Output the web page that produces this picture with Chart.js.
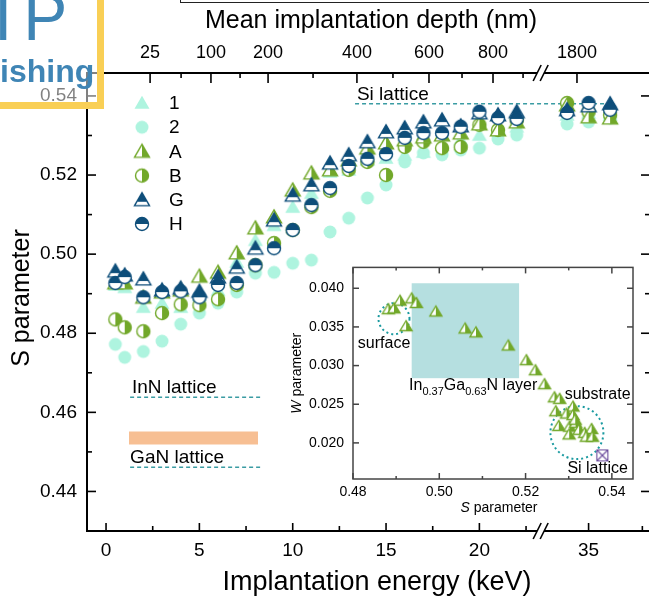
<!DOCTYPE html>
<html>
<head>
<meta charset="utf-8">
<script src="https://cdn.jsdelivr.net/npm/chart.js@4.4.1/dist/chart.umd.min.js"></script>
<style>
html, body { margin: 0; padding: 0; background: #fff; overflow: hidden; }
#wrap { position: relative; width: 649px; height: 604px; overflow: hidden; font-family: 'Liberation Sans', Arial, sans-serif; }
#main { position: absolute; left: 0; top: 0; }
#inset { position: absolute; left: 285px; top: 250px; }
#logo { position: absolute; left: 0; top: 0; width: 97px; height: 102px; background: rgba(255,255,255,0.5);
        border-right: 7px solid #f9cf55; border-bottom: 7px solid #f9cf55; overflow: hidden; color: #3f85b5; }
#logo .ip { position: absolute; left: -6px; top: -16px; font-size: 66px; line-height: 1; letter-spacing: 11px; }
#logo .ishing { position: absolute; left: 0; top: 55px; font-size: 32px; font-weight: bold; line-height: 1; }
#topbox { position: absolute; left: 180px; top: -10px; width: 480px; height: 11px; border: 1.5px solid #222; }
</style>
</head>
<body>
<div id="wrap">
  <canvas id="main" width="660" height="604"></canvas>
  <canvas id="inset" width="360" height="275"></canvas>
  <div id="logo"><div class="ip">IP</div><div class="ishing">ishing</div></div>
  <div id="topbox"></div>
</div>
<script>
// implantation energies (keV)
const energy = [0.5, 1, 2, 3, 4, 5, 6, 7, 8, 9, 10, 11, 12, 13, 14, 15, 16, 17, 18, 19, 20, 21, 22, 34, 35, 36];

// S parameter per sample
const s1 = [0.4922, 0.4916, 0.4866, 0.4876, 0.4866, 0.4896, 0.4909, 0.4980, 0.5035, 0.5073, 0.5119, 0.5154, 0.5208,
            0.5213, 0.5238, 0.5243, 0.5251, 0.5258, 0.5276, 0.5289, 0.5301, 0.5319, 0.5322, 0.5352, 0.5357, 0.5352];
const s2 = [0.4772, 0.4739, 0.4754, 0.4780, 0.4823, 0.4851, 0.4876, 0.4904, 0.4952, 0.4954, 0.4977, 0.4985, 0.5056,
            0.5091, 0.5142, 0.5175, 0.5233, 0.5256, 0.5251, 0.5263, 0.5268, 0.5291, 0.5301, 0.5329, 0.5334, 0.5344];
const sA = [0.4927, 0.4927, 0.4891, 0.4904, 0.4909, 0.4944, 0.4954, 0.5003, 0.5066, 0.5094, 0.5162, 0.5205, 0.5213,
            0.5238, 0.5268, 0.5281, 0.5289, 0.5296, 0.5301, 0.5306, 0.5329, 0.5314, 0.5334, 0.5377, 0.5347, 0.5344];
const sB = [0.4835, 0.4815, 0.4805, 0.4851, 0.4873, 0.4871, 0.4886, 0.4922, 0.4972, 0.5028, 0.5061, 0.5119, 0.5160,
            0.5213, 0.5233, 0.5200, 0.5271, 0.5284, 0.5268, 0.5271, 0.5327, 0.5314, 0.5339, 0.5382, 0.5360, 0.5352];
const sG = [0.4957, 0.4947, 0.4937, 0.4909, 0.4914, 0.4906, 0.4942, 0.4967, 0.5015, 0.5086, 0.5149, 0.5175, 0.5230,
            0.5251, 0.5284, 0.5309, 0.5319, 0.5334, 0.5339, 0.5324, 0.5357, 0.5352, 0.5360, 0.5365, 0.5375, 0.5380];
const sH = [0.4927, 0.4942, 0.4891, 0.4904, 0.4906, 0.4891, 0.4922, 0.4927, 0.4972, 0.5015, 0.5061, 0.5124, 0.5167,
            0.5223, 0.5241, 0.5253, 0.5294, 0.5306, 0.5306, 0.5322, 0.5360, 0.5344, 0.5342, 0.5357, 0.5382, 0.5365];

// reference levels
const siLevel = 0.538, siSpan = [13.34, 36.2];
const innLevel = 0.4638, ganLevel = 0.4461, latticeSpan = [1.29, 8.36];
const bandLevel = 0.4535, bandSpan = [1.23, 8.14];

// axes ticks
const yMajor = [0.44, 0.46, 0.48, 0.50, 0.52, 0.54];
const yMinor = [0.45, 0.47, 0.49, 0.51, 0.53];
const energyMajor = [0, 5, 10, 15, 20, 35];
const energyMinor = [2.5, 7.5, 12.5, 17.5, 22.5, 37.5];
const depthLabels = ['25', '100', '200', '400', '600', '800', '1800'];
const depthMajorE = [2.36, 5.62, 8.68, 13.44, 17.30, 20.73, 34.46];
const depthMinorE = [4.02, 7.18, 11.09, 15.37, 19.07, 22.34];
const breakE = 23.15;

// inset: W vs S for sample A
const insetS = [0.4882, 0.4895, 0.4909, 0.4923, 0.4936, 0.4947, 0.4992, 0.5060, 0.5085, 0.5160, 0.5202, 0.5223, 0.5244, 0.5267, 0.5279,
                0.5270, 0.5310, 0.5295, 0.5310, 0.5277, 0.5302, 0.5316, 0.5301, 0.5324, 0.5337, 0.5353, 0.5341, 0.5355, 0.5315];
const insetW = [0.0373, 0.0374, 0.0384, 0.0351, 0.0387, 0.0381, 0.0370, 0.0348, 0.0343, 0.0326, 0.0307, 0.0294, 0.0276, 0.0259, 0.0257,
                0.0241, 0.0247, 0.0238, 0.0236, 0.0222, 0.0221, 0.0226, 0.0211, 0.0217, 0.0213, 0.0218, 0.0208, 0.0208, 0.0230];
const siS = [0.5378], siW = [0.01838];
const layerS = [0.4936, 0.5185], layerW = [0.02837, 0.04065];
const surfaceCenter = [0.4895, 0.03607], substrateCenter = [0.5319, 0.02133];
const insetXTicks = [0.48, 0.50, 0.52, 0.54];
const insetXMinor = [0.49, 0.51, 0.53];
const insetYTicks = [0.020, 0.025, 0.030, 0.035, 0.040];

const FONT = "'Liberation Sans', Arial, sans-serif";
const AQUA = '#aef4df', GREEN = '#72a82a', BLUE = '#0e4e7a', TEAL = '#3a9ca3', PEACH = '#f7bf93', PURPLE = '#6a4a9c';

// broken axis: 0..23 keV linear, then 35 keV region a bit wider
function toU(e) {
    return e <= 28 ? e : 25.85 + (e - 35) * 1.152;
}

function marker(kind, color, w, h) {
    const c = document.createElement('canvas');
    c.width = 20;
    c.height = 20;
    const g = c.getContext('2d');
    const cx = 10, cy = 10;
    const isTri = kind.startsWith('tri');
    const path = () => {
        g.beginPath();
        if (isTri) {
            g.moveTo(cx, cy - h * 0.55);
            g.lineTo(cx + w / 2, cy + h * 0.45);
            g.lineTo(cx - w / 2, cy + h * 0.45);
            g.closePath();
        } else if (kind === 'box') {
            g.rect(cx - w / 2, cy - w / 2, w, w);
        } else {
            g.arc(cx, cy, w / 2, 0, Math.PI * 2);
        }
    };
    g.lineWidth = 1.4;
    g.strokeStyle = color;
    if (kind.endsWith('Full')) {
        path();
        g.fillStyle = color;
        g.fill();
        return c;
    }
    if (kind === 'box') {
        g.lineWidth = 1.1;
        path();
        g.stroke();
        g.beginPath();
        g.moveTo(cx - w / 2, cy - w / 2); g.lineTo(cx + w / 2, cy + w / 2);
        g.moveTo(cx + w / 2, cy - w / 2); g.lineTo(cx - w / 2, cy + w / 2);
        g.stroke();
        return c;
    }
    path();
    g.fillStyle = '#fff';
    g.fill();
    g.save();
    path();
    g.clip();
    g.fillStyle = color;
    if (kind.endsWith('Right')) g.fillRect(cx, 0, 20, 20);
    else g.fillRect(0, 0, 20, isTri ? cy + h * 0.15 : cy);
    g.restore();
    path();
    g.stroke();
    return c;
}

const mk = {
    t1: marker('triFull', AQUA, 15, 13),
    c2: marker('circFull', AQUA, 13),
    tA: marker('triRight', GREEN, 15, 13),
    cB: marker('circRight', GREEN, 13),
    tG: marker('triTop', BLUE, 15, 13),
    cH: marker('circTop', BLUE, 13),
    tSmall: marker('triRight', GREEN, 12, 10),
    si: marker('box', PURPLE, 11),
};

const pts = vals => energy.map((e, i) => ({ x: toU(e), y: vals[i] }));
const span = (range, level) => range.map(e => ({ x: toU(e), y: level }));

const legendRows = [
    { label: '1', img: mk.t1 }, { label: '2', img: mk.c2 }, { label: 'A', img: mk.tA },
    { label: 'B', img: mk.cB }, { label: 'G', img: mk.tG }, { label: 'H', img: mk.cH },
];

const mainNotes = [
    { text: 'Si lattice', e: 13.44, s: 0.5402 },
    { text: 'InN lattice', e: 1.39, s: 0.4661 },
    { text: 'GaN lattice', e: 1.29, s: 0.4486 },
];

const mainDecor = {
    id: 'mainDecor',
    afterDraw(chart) {
        const { ctx, chartArea: a, scales } = chart;
        const px = e => scales.x.getPixelForValue(toU(e));
        const py = s => scales.y.getPixelForValue(s);
        const line = (x1, y1, x2, y2) => { ctx.beginPath(); ctx.moveTo(x1, y1); ctx.lineTo(x2, y2); ctx.stroke(); };
        ctx.save();
        ctx.strokeStyle = '#000';
        ctx.lineWidth = 2;
        ctx.strokeRect(a.left, a.top, a.right - a.left, a.bottom - a.top);
        ctx.lineWidth = 1.6;
        yMajor.forEach(s => { line(a.left, py(s), a.left + 9, py(s)); line(a.right, py(s), a.right - 9, py(s)); });
        yMinor.forEach(s => { line(a.left, py(s), a.left + 5, py(s)); line(a.right, py(s), a.right - 5, py(s)); });
        energyMajor.forEach(e => line(px(e), a.bottom, px(e), a.bottom - 8));
        energyMinor.forEach(e => line(px(e), a.bottom, px(e), a.bottom - 5));
        depthMajorE.forEach(e => line(px(e), a.top, px(e), a.top + 10));
        depthMinorE.forEach(e => line(px(e), a.top, px(e), a.top + 5));

        // axis break marks
        const bx = px(breakE);
        [a.top, a.bottom].forEach(yy => {
            ctx.fillStyle = '#fff';
            ctx.beginPath();
            ctx.moveTo(bx - 5, yy + 8); ctx.lineTo(bx + 3, yy - 8);
            ctx.lineTo(bx + 10, yy - 8); ctx.lineTo(bx + 2, yy + 8);
            ctx.closePath();
            ctx.fill();
            line(bx - 5, yy + 8, bx + 3, yy - 8);
            line(bx + 2, yy + 8, bx + 10, yy - 8);
        });

        // legend
        ctx.fillStyle = '#000';
        ctx.font = '19px ' + FONT;
        ctx.textBaseline = 'middle';
        ctx.textAlign = 'left';
        legendRows.forEach((r, i) => {
            const ly = 103 + i * 24.2;
            ctx.drawImage(r.img, 142 - 10, ly - 10);
            ctx.fillText(r.label, 169, ly + 1);
        });

        // reference labels
        ctx.font = '19px ' + FONT;
        mainNotes.forEach(n => ctx.fillText(n.text, px(n.e), py(n.s)));

        // axis titles
        ctx.textAlign = 'center';
        ctx.font = '27px ' + FONT;
        ctx.fillText('Implantation energy (keV)', 377, 583);
        ctx.font = '25px ' + FONT;
        ctx.fillText('Mean implantation depth (nm)', 371, 21);
        ctx.translate(22, 298);
        ctx.rotate(-Math.PI / 2);
        ctx.fillText('S parameter', 0, 0);
        ctx.restore();
    }
};

const scatterSet = (label, vals, img) => ({
    label, data: pts(vals), pointStyle: img, pointRadius: 7, showLine: false,
});

new Chart(document.getElementById('main'), {
    type: 'scatter',
    data: {
        datasets: [
            scatterSet('H', sH, mk.cH),
            scatterSet('G', sG, mk.tG),
            scatterSet('A', sA, mk.tA),
            scatterSet('B', sB, mk.cB),
            scatterSet('1', s1, mk.t1),
            scatterSet('2', s2, mk.c2),
            { label: 'Si', data: span(siSpan, siLevel), showLine: true, pointRadius: 0, borderColor: TEAL, borderWidth: 1.5, borderDash: [4, 3] },
            { label: 'InN', data: span(latticeSpan, innLevel), showLine: true, pointRadius: 0, borderColor: TEAL, borderWidth: 1.5, borderDash: [4, 3] },
            { label: 'GaN', data: span(latticeSpan, ganLevel), showLine: true, pointRadius: 0, borderColor: TEAL, borderWidth: 1.5, borderDash: [4, 3] },
            { label: 'InGaN', data: span(bandSpan, bandLevel), showLine: true, pointRadius: 0, borderColor: PEACH, borderWidth: 13, borderCapStyle: 'butt' },
        ]
    },
    options: {
        responsive: false,
        animation: false,
        devicePixelRatio: 1,
        events: [],
        layout: { padding: { left: 0, right: 10, top: 0, bottom: 0 } },
        plugins: { legend: { display: false }, tooltip: { enabled: false } },
        scales: {
            x: {
                type: 'linear', position: 'bottom', min: -1.02, max: 29.14,
                afterBuildTicks: s => { s.ticks = energyMajor.map(e => ({ value: toU(e) })); },
                afterFit: s => { s.height = 73; },
                grid: { display: false, drawTicks: false }, border: { display: false },
                ticks: { autoSkip: false, maxRotation: 0, padding: 8, color: '#000', font: { size: 19, family: FONT },
                         callback: (v, i) => String(energyMajor[i]) }
            },
            x2: {
                type: 'linear', position: 'top', min: -1.02, max: 29.14,
                afterBuildTicks: s => { s.ticks = depthMajorE.map(e => ({ value: toU(e) })); },
                afterFit: s => { s.height = 73; },
                grid: { display: false, drawTicks: false }, border: { display: false },
                ticks: { autoSkip: false, maxRotation: 0, padding: 9, color: '#000', font: { size: 18, family: FONT },
                         callback: (v, i) => depthLabels[i] }
            },
            y: {
                type: 'linear', min: 0.43, max: 0.5458,
                afterBuildTicks: s => { s.ticks = yMajor.map(v => ({ value: v })); },
                afterFit: s => { s.width = 87; },
                grid: { display: false, drawTicks: false }, border: { display: false },
                ticks: { padding: 10, color: '#000', font: { size: 19, family: FONT }, callback: v => v.toFixed(2) }
            }
        }
    },
    plugins: [mainDecor]
});

// ---------- inset ----------
const insetDecor = {
    id: 'insetDecor',
    beforeDraw(chart) {
        const { ctx, chartArea: a } = chart;
        ctx.save();
        ctx.fillStyle = '#fff';
        ctx.fillRect(a.left, a.top, a.right - a.left, a.bottom - a.top);
        ctx.restore();
    },
    beforeDatasetsDraw(chart) {
        const { ctx, scales: { x, y } } = chart;
        ctx.save();
        ctx.fillStyle = '#b5dfe0';
        const x0 = x.getPixelForValue(layerS[0]), x1 = x.getPixelForValue(layerS[1]);
        const y0 = y.getPixelForValue(layerW[1]), y1 = y.getPixelForValue(layerW[0]);
        ctx.fillRect(x0, y0, x1 - x0, y1 - y0);
        ctx.strokeStyle = '#1a9aa0';
        ctx.lineWidth = 2;
        ctx.setLineDash([2, 3]);
        [[surfaceCenter, 15.5], [substrateCenter, 26.5]].forEach(([c, r]) => {
            ctx.beginPath();
            ctx.arc(x.getPixelForValue(c[0]), y.getPixelForValue(c[1]), r, 0, Math.PI * 2);
            ctx.stroke();
        });
        ctx.restore();
    },
    afterDraw(chart) {
        const { ctx, chartArea: a, scales: { x, y } } = chart;
        const line = (x1, y1, x2, y2) => { ctx.beginPath(); ctx.moveTo(x1, y1); ctx.lineTo(x2, y2); ctx.stroke(); };
        ctx.save();
        ctx.strokeStyle = '#444';
        ctx.lineWidth = 1.5;
        ctx.strokeRect(a.left, a.top, a.right - a.left, a.bottom - a.top);
        insetXTicks.forEach(v => { const p = x.getPixelForValue(v); line(p, a.bottom, p, a.bottom - 6); line(p, a.top, p, a.top + 6); });
        insetXMinor.forEach(v => { const p = x.getPixelForValue(v); line(p, a.bottom, p, a.bottom - 3); line(p, a.top, p, a.top + 3); });
        insetYTicks.forEach(v => { const p = y.getPixelForValue(v); line(a.left, p, a.left + 6, p); line(a.right, p, a.right - 6, p); });

        const px = s => x.getPixelForValue(s), py = w => y.getPixelForValue(w);
        ctx.fillStyle = '#000';
        ctx.textBaseline = 'middle';
        ctx.textAlign = 'center';
        ctx.font = '16px ' + FONT;
        ctx.fillText('surface', px(0.4872), py(0.03287));
        ctx.fillText('substrate', px(0.5367), py(0.02624));
        ctx.fillText('Si lattice', px(0.5367), py(0.01666));

        // In0.37Ga0.63N layer with subscripts
        let tx = px(0.4930);
        const ty = py(0.02735);
        ctx.textAlign = 'left';
        [['In', false], ['0.37', true], ['Ga', false], ['0.63', true], ['N layer', false]].forEach(([t, sub]) => {
            ctx.font = (sub ? '11px ' : '16px ') + FONT;
            ctx.fillText(t, tx, ty + (sub ? 6 : 0));
            tx += ctx.measureText(t).width;
        });

        // axis titles with italic symbol
        const title = (sym, rest, cx, cy) => {
            ctx.font = 'italic 14px ' + FONT;
            const w1 = ctx.measureText(sym).width;
            ctx.font = '14px ' + FONT;
            const w2 = ctx.measureText(rest).width;
            const left = cx - (w1 + w2) / 2;
            ctx.textAlign = 'left';
            ctx.font = 'italic 14px ' + FONT;
            ctx.fillText(sym, left, cy);
            ctx.font = '14px ' + FONT;
            ctx.fillText(rest, left + w1, cy);
        };
        title('S', ' parameter', (a.left + a.right) / 2 + 6, 258);
        ctx.translate(12, (a.top + a.bottom) / 2);
        ctx.rotate(-Math.PI / 2);
        title('W', ' parameter', 0, 0);
        ctx.restore();
    }
};

new Chart(document.getElementById('inset'), {
    type: 'scatter',
    data: {
        datasets: [
            { label: 'Si lattice', data: siS.map((s, i) => ({ x: s, y: siW[i] })), pointStyle: mk.si, pointRadius: 6 },
            { label: 'A', data: insetS.map((s, i) => ({ x: s, y: insetW[i] })), pointStyle: mk.tSmall, pointRadius: 6 },
        ]
    },
    options: {
        responsive: false,
        animation: false,
        devicePixelRatio: 1,
        events: [],
        layout: { padding: { top: 6, right: 12, left: 0, bottom: 0 } },
        plugins: { legend: { display: false }, tooltip: { enabled: false } },
        scales: {
            x: {
                type: 'linear', min: 0.48, max: 0.5449,
                afterBuildTicks: s => { s.ticks = insetXTicks.map(v => ({ value: v })); },
                afterFit: s => { s.height = 46; },
                grid: { display: false, drawTicks: false }, border: { display: false },
                ticks: { autoSkip: false, maxRotation: 0, padding: 5, color: '#000', font: { size: 14, family: FONT },
                         callback: v => v.toFixed(2) }
            },
            y: {
                type: 'linear', min: 0.01533, max: 0.0427,
                afterBuildTicks: s => { s.ticks = insetYTicks.map(v => ({ value: v })); },
                afterFit: s => { s.width = 68; },
                grid: { display: false, drawTicks: false }, border: { display: false },
                ticks: { padding: 9, color: '#000', font: { size: 14, family: FONT }, callback: v => v.toFixed(3) }
            }
        }
    },
    plugins: [insetDecor]
});
</script>
</body>
</html>
